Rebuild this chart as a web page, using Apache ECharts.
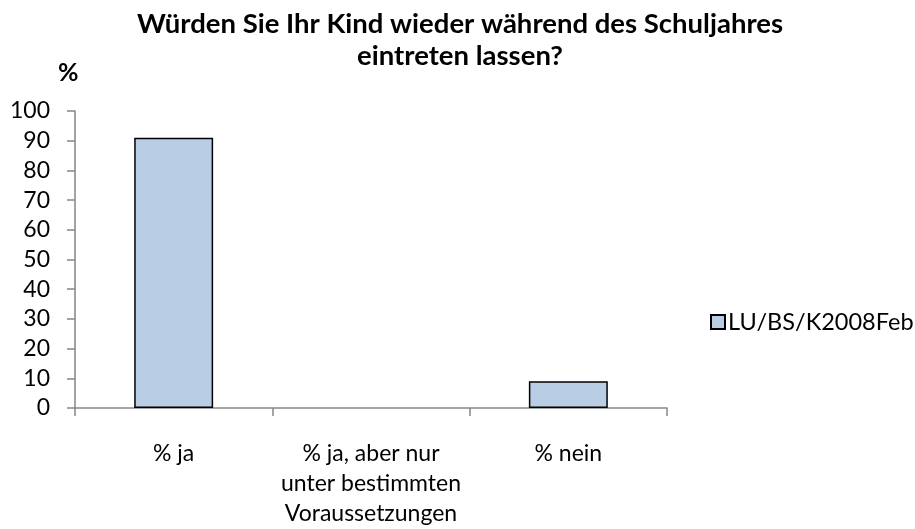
<!DOCTYPE html>
<html>
<head>
<meta charset="utf-8">
<script src="https://cdn.jsdelivr.net/npm/echarts@6/dist/echarts.min.js"></script>
<style>html,body{margin:0;padding:0;background:#fff;}#c{width:915px;height:529px;}</style>
</head>
<body>
<div id="c"></div>
<script>
const categories = ['% ja', '% ja, aber nur\nunter bestimmten\nVoraussetzungen', '% nein'];
const seriesName = 'LU/BS/K2008Feb';
const values = [91, 0, 9];
const titleText = 'Würden Sie Ihr Kind wieder während des Schuljahres\neintreten lassen?';
const yUnit = '%';

const chart = echarts.init(document.getElementById('c'), null, {renderer: 'canvas'});
const FONT = 'Lato';
chart.setOption({
  animation: false,
  backgroundColor: '#ffffff',
  title: {
    text: titleText,
    left: 460, top: 8, textAlign: 'center', padding: 0,
    textStyle: {fontFamily: FONT, fontWeight: 'bold', fontSize: 27.5, color: '#000', lineHeight: 32}
  },
  graphic: [{
    type: 'text', left: 58, top: 60,
    style: {text: yUnit, font: 'bold 25px ' + FONT, fill: '#000'}
  }],
  legend: {
    data: [seriesName],
    left: 710, top: 310, padding: 0,
    itemWidth: 14, itemHeight: 14, itemGap: 6,
    icon: 'rect',
    textStyle: {fontFamily: FONT, fontSize: 23.5, color: '#000', padding: [0,0,0,-2]}
  },
  grid: {left: 75, right: 248, top: 111, bottom: 119, containLabel: false},
  xAxis: {
    type: 'category', data: categories,
    axisLine: {lineStyle: {color: '#868686', width: 1.5}},
    axisTick: {show: true, alignWithLabel: false, length: 8, lineStyle: {color: '#868686', width: 1.5}},
    axisLabel: {fontFamily: FONT, fontSize: 23, color: '#000', margin: 31, lineHeight: 30, interval: 0}
  },
  yAxis: {
    type: 'value', min: 0, max: 100, interval: 10,
    axisLine: {show: true, lineStyle: {color: '#868686', width: 1.5}},
    axisTick: {show: true, length: 8, lineStyle: {color: '#868686', width: 1.5}},
    splitLine: {show: false},
    axisLabel: {fontFamily: FONT, fontSize: 23, color: '#000', margin: 25}
  },
  series: [{
    name: seriesName, type: 'bar',
    data: values.map(v => v === 0 ? {value: v, itemStyle: {borderWidth: 0}} : v),
    barWidth: '40%',
    itemStyle: {color: '#b9cde5', borderColor: '#000', borderWidth: 1.5}
  }]
});
</script>
</body>
</html>
